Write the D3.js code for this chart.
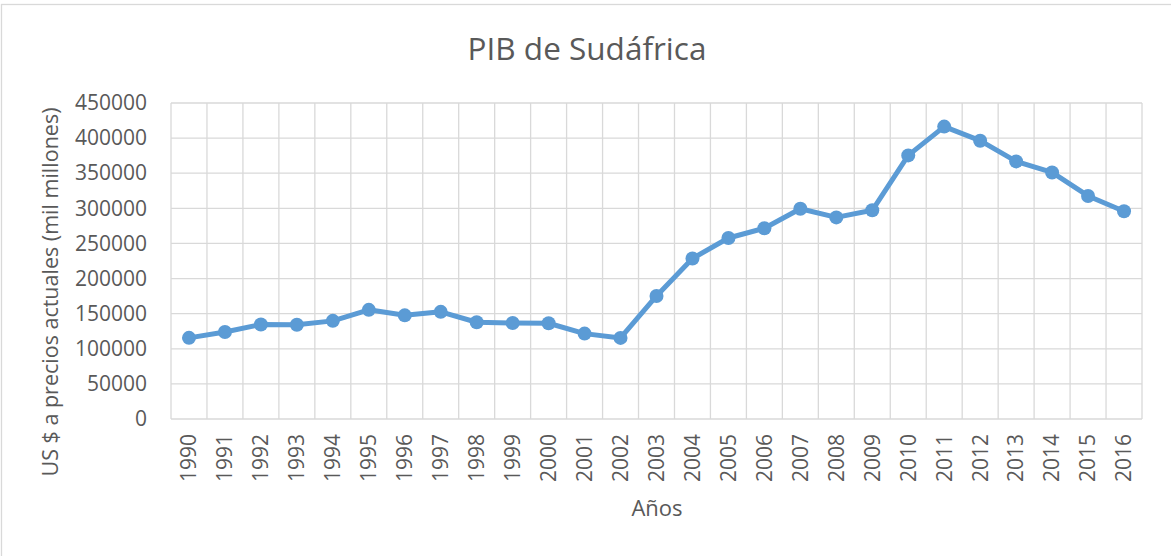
<!DOCTYPE html>
<html>
<head>
<meta charset="utf-8">
<script src="https://cdn.jsdelivr.net/npm/d3@7"></script>
<style>
  body { margin: 0; background: #fff; }
  text { font-family: "Open Sans", sans-serif; fill: #595959; }
</style>
</head>
<body>
<svg id="chart" width="1171" height="556"></svg>
<script>
// PIB de Sudáfrica, US $ a precios actuales (mil millones)
const years = [1990, 1991, 1992, 1993, 1994, 1995, 1996, 1997, 1998, 1999, 2000, 2001, 2002,
    2003, 2004, 2005, 2006, 2007, 2008, 2009, 2010, 2011, 2012, 2013, 2014, 2015, 2016];
const gdp = [115550, 123940, 134550, 134310, 139750, 155460, 147610, 152590, 137770, 136630,
    136360, 121600, 115480, 175260, 228590, 257770, 271640, 299420, 287100, 297220,
    375350, 416420, 396330, 366830, 351120, 317620, 295760];
const yTicks = [0, 50000, 100000, 150000, 200000, 250000, 300000, 350000, 400000, 450000];

const svg = d3.select("#chart");
const plot = { left: 171, right: 1142, top: 103, bottom: 419 };
const blue = "#5b9bd5";

// chart frame
svg.append("rect")
    .attr("x", 1.5).attr("y", 4.5)
    .attr("width", 1180).attr("height", 560)
    .attr("fill", "none").attr("stroke", "#d9d9d9").attr("stroke-width", 1.3);

const x = d3.scaleBand()
    .domain(years)
    .range([plot.left, plot.right]);

const y = d3.scaleLinear()
    .domain([0, 450000])
    .range([plot.bottom, plot.top]);

// horizontal grid
svg.append("g")
    .selectAll("line")
    .data(yTicks)
    .join("line")
    .attr("x1", plot.left).attr("x2", plot.right)
    .attr("y1", (d) => y(d)).attr("y2", (d) => y(d))
    .attr("stroke", "#d9d9d9").attr("stroke-width", 1.3);

// vertical grid (category boundaries)
const bounds = years.map((d) => x(d)).concat([plot.right]);
svg.append("g")
    .selectAll("line")
    .data(bounds)
    .join("line")
    .attr("x1", (d) => d).attr("x2", (d) => d)
    .attr("y1", plot.top).attr("y2", plot.bottom)
    .attr("stroke", "#d9d9d9").attr("stroke-width", 1.3);

// y axis labels
const yAxis = svg.append("g")
    .attr("transform", `translate(${plot.left - 24},0)`)
    .call(d3.axisLeft(y).tickValues(yTicks).tickSize(0).tickPadding(0).tickFormat(d3.format("d")));
yAxis.select(".domain").remove();
yAxis.selectAll("text")
    .attr("font-family", "Open Sans")
    .attr("font-size", 21)
    .attr("fill", "#595959");

// x axis labels, rotated
const xAxis = svg.append("g")
    .attr("transform", `translate(0,${plot.bottom})`)
    .call(d3.axisBottom(x).tickSize(0).tickPadding(0));
xAxis.select(".domain").remove();
xAxis.selectAll("text")
    .attr("font-family", "Open Sans")
    .attr("font-size", 21)
    .attr("fill", "#595959")
    .attr("transform", "rotate(-90)")
    .attr("text-anchor", "end")
    .attr("x", -15)
    .attr("y", 0)
    .attr("dy", "0.35em");

// line + markers
const line = d3.line()
    .x((d, i) => x(years[i]) + x.bandwidth() / 2)
    .y((d) => y(d));

svg.append("path")
    .datum(gdp)
    .attr("d", line)
    .attr("fill", "none")
    .attr("stroke", blue)
    .attr("stroke-width", 5)
    .attr("stroke-linejoin", "round")
    .attr("stroke-linecap", "round");

svg.append("g")
    .selectAll("circle")
    .data(gdp)
    .join("circle")
    .attr("cx", (d, i) => x(years[i]) + x.bandwidth() / 2)
    .attr("cy", (d) => y(d))
    .attr("r", 7)
    .attr("fill", blue);

// titles
svg.append("text")
    .attr("x", 587).attr("y", 60)
    .attr("text-anchor", "middle")
    .attr("font-size", 31.5)
    .text("PIB de Sudáfrica");

svg.append("text")
    .attr("x", 657).attr("y", 516)
    .attr("text-anchor", "middle")
    .attr("font-size", 22)
    .text("Años");

svg.append("text")
    .attr("transform", "translate(58,292) rotate(-90)")
    .attr("text-anchor", "middle")
    .attr("font-size", 21.5)
    .text("US $ a precios actuales (mil millones)");
</script>
</body>
</html>
